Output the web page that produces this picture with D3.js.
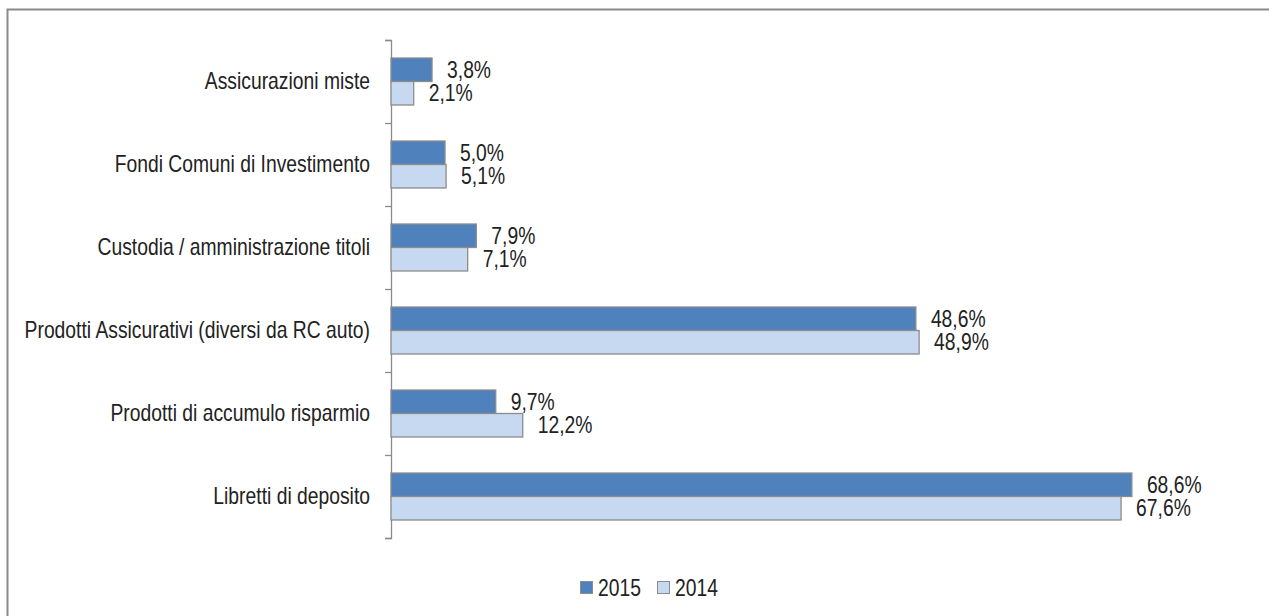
<!DOCTYPE html>
<html>
<head>
<meta charset="utf-8">
<script src="https://cdn.jsdelivr.net/npm/d3@7"></script>
<style>
  html, body { margin: 0; padding: 0; background: #fff; }
  svg { display: block; }
  text { font-family: "Liberation Sans", Arial, sans-serif; fill: #222; }
</style>
</head>
<body>
<svg id="chart" width="1269" height="616"></svg>
<script>
// Product categories, top to bottom
const categories = [
  "Assicurazioni miste",
  "Fondi Comuni di Investimento",
  "Custodia / amministrazione titoli",
  "Prodotti Assicurativi (diversi da RC auto)",
  "Prodotti di accumulo risparmio",
  "Libretti di deposito"
];
const seriesNames = ["2015", "2014"];
const values2015 = [3.8, 5.0, 7.9, 48.6, 9.7, 68.6];
const values2014 = [2.1, 5.1, 7.1, 48.9, 12.2, 67.6];
const seriesColors = ["#4F81BD", "#C6D9F1"];

const svg = d3.select("#chart");
const W = 1269, H = 616;
// horizontal squeeze that gives the narrow face look
const NARROW = 0.84;
const FONT = "23px";

// outer frame
svg.append("rect")
  .attr("x", 7.5).attr("y", 9.5)
  .attr("width", W + 10).attr("height", H + 10)
  .attr("fill", "none").attr("stroke", "#8a8a8a").attr("stroke-width", 2);

const plot = { left: 391, right: 1255, top: 40, bottom: 538 };

const x = d3.scaleLinear().domain([0, 80]).range([plot.left, plot.right]);
const y = d3.scaleBand().domain(categories)
  .range([plot.top, plot.bottom])
  .paddingInner(0.434).paddingOuter(0.217);
const ySub = d3.scaleBand().domain(seriesNames).range([0, y.bandwidth()]);

// category boundary ticks
const edges = d3.scaleLinear().domain([0, categories.length]).range([plot.top, plot.bottom]);
const axisG = svg.append("g")
  .attr("transform", `translate(${plot.left},0)`)
  .call(d3.axisLeft(edges).ticks(categories.length).tickSize(6).tickSizeOuter(6).tickFormat(""));
axisG.selectAll("path, line").attr("stroke", "#8a8a8a").attr("stroke-width", 1.3);

// category labels
svg.append("g").selectAll("text")
  .data(categories).join("text")
  .attr("transform", d => `translate(370,${y(d) + y.bandwidth() / 2 - 1}) scale(${NARROW},1)`)
  .attr("text-anchor", "end")
  .attr("dominant-baseline", "central")
  .style("font-size", FONT)
  .text(d => d);

const rows = categories.map((c, i) => ({
  cat: c,
  vals: [
    { s: "2015", v: values2015[i], color: seriesColors[0] },
    { s: "2014", v: values2014[i], color: seriesColors[1] }
  ]
}));

const fmt = v => d3.format(".1f")(v).replace(".", ",") + "%";

const groups = svg.append("g").selectAll("g")
  .data(rows).join("g")
  .attr("transform", d => `translate(0,${y(d.cat)})`);

groups.selectAll("rect")
  .data(d => d.vals).join("rect")
  .attr("x", x(0))
  .attr("y", d => ySub(d.s))
  .attr("width", d => x(d.v) - x(0))
  .attr("height", ySub.bandwidth())
  .attr("fill", d => d.color)
  .attr("stroke", "#8c8c8c")
  .attr("stroke-width", 1.3);

groups.selectAll("text")
  .data(d => d.vals).join("text")
  .attr("transform", d => `translate(${x(d.v) + 15},${ySub(d.s) + ySub.bandwidth() / 2}) scale(${NARROW},1)`)
  .attr("dominant-baseline", "central")
  .style("font-size", FONT)
  .text(d => fmt(d.v));

// legend
const legend = svg.append("g").attr("transform", "translate(580,581)");
const legendX = [0, 77];
seriesNames.forEach((s, i) => {
  const g = legend.append("g").attr("transform", `translate(${legendX[i]},0)`);
  g.append("rect").attr("x", 0.5).attr("y", 0.5).attr("width", 12).attr("height", 12)
    .attr("fill", seriesColors[i]).attr("stroke", "#8c8c8c").attr("stroke-width", 1);
  g.append("text")
    .attr("transform", `translate(18,6.5) scale(${NARROW},1)`)
    .attr("dominant-baseline", "central")
    .style("font-size", FONT)
    .text(s);
});
</script>
</body>
</html>
